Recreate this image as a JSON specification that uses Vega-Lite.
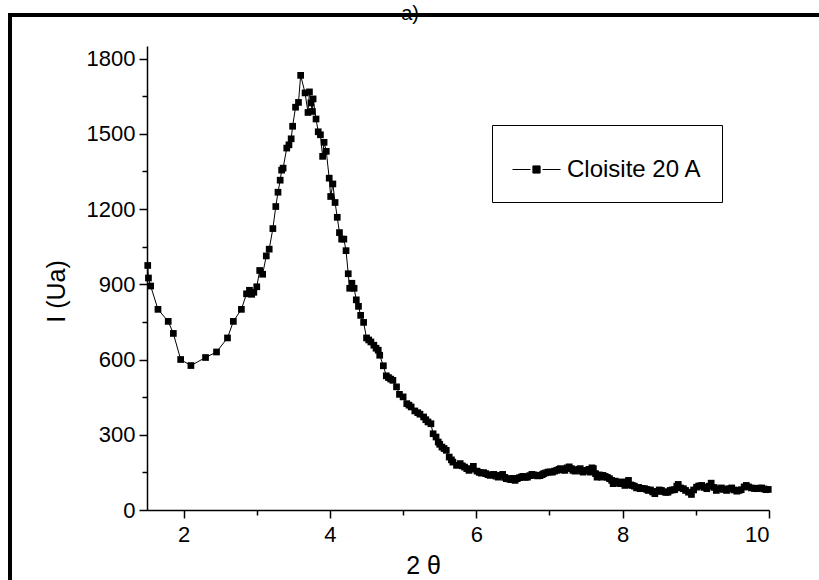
{
  "$schema": "https://vega.github.io/schema/vega-lite/v6.json",
  "autosize": "none",
  "width": 622,
  "height": 464,
  "padding": {"left": 147, "top": 46, "right": 50, "bottom": 70},
  "background": "white",
  "title": {"text": "a)", "fontSize": 20, "font": "Liberation Sans", "fontWeight": "normal", "color": "black", "anchor": "middle", "frame": "bounds", "offset": 0, "dx": -16, "dy": 11},
  "datasets": {
    "xrd": [
      {"x": 1.51, "y": 975}, {"x": 1.52, "y": 925}, {"x": 1.55, "y": 893}, {"x": 1.65, "y": 800}, {"x": 1.79, "y": 752}, {"x": 1.86, "y": 704}, {"x": 1.96, "y": 600}, {"x": 2.10, "y": 576}, {"x": 2.30, "y": 608}, {"x": 2.45, "y": 630}, {"x": 2.60, "y": 686}, {"x": 2.68, "y": 752}, {"x": 2.79, "y": 800}, {"x": 2.86, "y": 862}, {"x": 2.90, "y": 876}, {"x": 2.93, "y": 860}, {"x": 2.96, "y": 868}, {"x": 3.00, "y": 890}, {"x": 3.04, "y": 955}, {"x": 3.08, "y": 940}, {"x": 3.13, "y": 1013}, {"x": 3.17, "y": 1040}, {"x": 3.22, "y": 1122}, {"x": 3.26, "y": 1210}, {"x": 3.29, "y": 1267}, {"x": 3.32, "y": 1315}, {"x": 3.34, "y": 1355}, {"x": 3.36, "y": 1363}, {"x": 3.41, "y": 1443}, {"x": 3.44, "y": 1456}, {"x": 3.47, "y": 1480}, {"x": 3.49, "y": 1530}, {"x": 3.53, "y": 1606}, {"x": 3.57, "y": 1625}, {"x": 3.60, "y": 1733}, {"x": 3.66, "y": 1663}, {"x": 3.70, "y": 1585}, {"x": 3.72, "y": 1667}, {"x": 3.74, "y": 1623}, {"x": 3.76, "y": 1589}, {"x": 3.77, "y": 1639}, {"x": 3.81, "y": 1559}, {"x": 3.84, "y": 1508}, {"x": 3.87, "y": 1496}, {"x": 3.90, "y": 1410}, {"x": 3.92, "y": 1466}, {"x": 3.95, "y": 1430}, {"x": 3.99, "y": 1323}, {"x": 4.01, "y": 1250}, {"x": 4.04, "y": 1300}, {"x": 4.07, "y": 1226}, {"x": 4.10, "y": 1167}, {"x": 4.13, "y": 1106}, {"x": 4.16, "y": 1080}, {"x": 4.19, "y": 1080}, {"x": 4.22, "y": 1034}, {"x": 4.25, "y": 942}, {"x": 4.27, "y": 884}, {"x": 4.30, "y": 904}, {"x": 4.33, "y": 884}, {"x": 4.36, "y": 838}, {"x": 4.39, "y": 812}, {"x": 4.42, "y": 776}, {"x": 4.46, "y": 748}, {"x": 4.50, "y": 686}, {"x": 4.53, "y": 678}, {"x": 4.56, "y": 670}, {"x": 4.60, "y": 657}, {"x": 4.63, "y": 645}, {"x": 4.66, "y": 637}, {"x": 4.68, "y": 617}, {"x": 4.73, "y": 575}, {"x": 4.77, "y": 535}, {"x": 4.80, "y": 528}, {"x": 4.83, "y": 522}, {"x": 4.86, "y": 517}, {"x": 4.91, "y": 491}, {"x": 4.95, "y": 461}, {"x": 5.00, "y": 451}, {"x": 5.05, "y": 424}, {"x": 5.08, "y": 418}, {"x": 5.11, "y": 411}, {"x": 5.16, "y": 395}, {"x": 5.20, "y": 388}, {"x": 5.23, "y": 382}, {"x": 5.28, "y": 371}, {"x": 5.31, "y": 360}, {"x": 5.34, "y": 351}, {"x": 5.38, "y": 344}, {"x": 5.41, "y": 304}, {"x": 5.45, "y": 291}, {"x": 5.48, "y": 271}, {"x": 5.50, "y": 262}, {"x": 5.53, "y": 251}, {"x": 5.56, "y": 245}, {"x": 5.59, "y": 238}, {"x": 5.63, "y": 211}, {"x": 5.66, "y": 200}, {"x": 5.68, "y": 191}, {"x": 5.73, "y": 178}, {"x": 5.78, "y": 185}, {"x": 5.81, "y": 176}, {"x": 5.84, "y": 171}, {"x": 5.87, "y": 165}, {"x": 5.90, "y": 158}, {"x": 5.93, "y": 163}, {"x": 5.96, "y": 174}, {"x": 6.01, "y": 155}, {"x": 6.04, "y": 150}, {"x": 6.07, "y": 147}, {"x": 6.10, "y": 149}, {"x": 6.13, "y": 145}, {"x": 6.16, "y": 141}, {"x": 6.19, "y": 138}, {"x": 6.24, "y": 142}, {"x": 6.27, "y": 135}, {"x": 6.30, "y": 131}, {"x": 6.33, "y": 138}, {"x": 6.36, "y": 142}, {"x": 6.39, "y": 130}, {"x": 6.41, "y": 125}, {"x": 6.44, "y": 124}, {"x": 6.47, "y": 121}, {"x": 6.50, "y": 126}, {"x": 6.53, "y": 118}, {"x": 6.56, "y": 125}, {"x": 6.59, "y": 129}, {"x": 6.62, "y": 132}, {"x": 6.64, "y": 134}, {"x": 6.67, "y": 130}, {"x": 6.70, "y": 131}, {"x": 6.73, "y": 137}, {"x": 6.76, "y": 142}, {"x": 6.79, "y": 140}, {"x": 6.81, "y": 138}, {"x": 6.84, "y": 136}, {"x": 6.87, "y": 137}, {"x": 6.90, "y": 141}, {"x": 6.92, "y": 145}, {"x": 6.95, "y": 148}, {"x": 6.98, "y": 151}, {"x": 7.01, "y": 152}, {"x": 7.04, "y": 151}, {"x": 7.07, "y": 155}, {"x": 7.10, "y": 158}, {"x": 7.13, "y": 162}, {"x": 7.15, "y": 165}, {"x": 7.18, "y": 160}, {"x": 7.21, "y": 158}, {"x": 7.24, "y": 168}, {"x": 7.27, "y": 172}, {"x": 7.30, "y": 165}, {"x": 7.32, "y": 158}, {"x": 7.35, "y": 155}, {"x": 7.37, "y": 160}, {"x": 7.40, "y": 162}, {"x": 7.42, "y": 165}, {"x": 7.44, "y": 155}, {"x": 7.46, "y": 151}, {"x": 7.49, "y": 156}, {"x": 7.51, "y": 158}, {"x": 7.54, "y": 162}, {"x": 7.56, "y": 151}, {"x": 7.58, "y": 168}, {"x": 7.60, "y": 165}, {"x": 7.63, "y": 145}, {"x": 7.65, "y": 131}, {"x": 7.68, "y": 140}, {"x": 7.71, "y": 131}, {"x": 7.73, "y": 138}, {"x": 7.76, "y": 134}, {"x": 7.79, "y": 130}, {"x": 7.82, "y": 125}, {"x": 7.85, "y": 118}, {"x": 7.87, "y": 105}, {"x": 7.90, "y": 115}, {"x": 7.92, "y": 111}, {"x": 7.95, "y": 108}, {"x": 7.97, "y": 105}, {"x": 8.00, "y": 112}, {"x": 8.03, "y": 98}, {"x": 8.06, "y": 110}, {"x": 8.08, "y": 118}, {"x": 8.11, "y": 100}, {"x": 8.13, "y": 98}, {"x": 8.16, "y": 95}, {"x": 8.19, "y": 88}, {"x": 8.22, "y": 90}, {"x": 8.24, "y": 85}, {"x": 8.27, "y": 86}, {"x": 8.30, "y": 85}, {"x": 8.33, "y": 82}, {"x": 8.35, "y": 78}, {"x": 8.38, "y": 80}, {"x": 8.41, "y": 72}, {"x": 8.44, "y": 65}, {"x": 8.47, "y": 74}, {"x": 8.50, "y": 80}, {"x": 8.53, "y": 78}, {"x": 8.56, "y": 73}, {"x": 8.59, "y": 70}, {"x": 8.62, "y": 71}, {"x": 8.65, "y": 78}, {"x": 8.68, "y": 80}, {"x": 8.71, "y": 81}, {"x": 8.74, "y": 95}, {"x": 8.76, "y": 102}, {"x": 8.79, "y": 88}, {"x": 8.83, "y": 85}, {"x": 8.86, "y": 78}, {"x": 8.90, "y": 71}, {"x": 8.94, "y": 62}, {"x": 8.97, "y": 80}, {"x": 9.01, "y": 91}, {"x": 9.04, "y": 96}, {"x": 9.08, "y": 98}, {"x": 9.11, "y": 90}, {"x": 9.15, "y": 85}, {"x": 9.18, "y": 95}, {"x": 9.21, "y": 107}, {"x": 9.25, "y": 90}, {"x": 9.28, "y": 78}, {"x": 9.31, "y": 84}, {"x": 9.35, "y": 88}, {"x": 9.38, "y": 82}, {"x": 9.42, "y": 78}, {"x": 9.45, "y": 85}, {"x": 9.49, "y": 88}, {"x": 9.52, "y": 80}, {"x": 9.56, "y": 75}, {"x": 9.59, "y": 78}, {"x": 9.62, "y": 81}, {"x": 9.66, "y": 92}, {"x": 9.69, "y": 98}, {"x": 9.72, "y": 92}, {"x": 9.76, "y": 88}, {"x": 9.80, "y": 86}, {"x": 9.83, "y": 85}, {"x": 9.86, "y": 87}, {"x": 9.90, "y": 88}, {"x": 9.93, "y": 84}, {"x": 9.96, "y": 81}, {"x": 9.99, "y": 82}
    ]
  },
  "data": {"name": "xrd"},
  "resolve": {"scale": {"x": "independent", "y": "independent"}},
  "layer": [
    {
      "mark": {"type": "rect", "fill": null, "stroke": "black", "strokeWidth": 3.5, "clip": false},
      "encoding": {
        "x": {"datum": -0.372, "type": "quantitative", "scale": {"domain": [1.5, 10], "nice": false, "zero": false}, "axis": null},
        "x2": {"datum": 11.0},
        "y": {"datum": 1974, "type": "quantitative", "scale": {"domain": [0, 1850], "nice": false, "zero": false}, "axis": null},
        "y2": {"datum": -319}
      }
    },
    {
      "mark": {"type": "tick", "opacity": 0},
      "encoding": {
        "x": {"field": "x", "type": "quantitative", "scale": {"domain": [1.5, 10], "nice": false, "zero": false},
          "axis": {"orient": "bottom", "values": [3, 5, 7, 9], "tickSize": 5, "labels": false, "domain": false, "title": null}},
        "y": {"field": "y", "type": "quantitative", "scale": {"domain": [0, 1850], "nice": false, "zero": false},
          "axis": {"orient": "left", "values": [150, 450, 750, 1050, 1350, 1650], "tickSize": 5, "labels": false, "domain": false, "title": null}}
      }
    },
    {
      "mark": {"type": "line", "color": "black", "strokeWidth": 1},
      "encoding": {
        "x": {"field": "x", "type": "quantitative", "scale": {"domain": [1.5, 10], "nice": false, "zero": false},
          "axis": {"orient": "bottom", "values": [2, 4, 6, 8, 10], "tickSize": 8, "title": "2 θ", "titleFontSize": 25, "titleX": 276, "titlePadding": 8, "labelFontSize": 22, "labelPadding": 6, "format": "d"}},
        "y": {"field": "y", "type": "quantitative", "scale": {"domain": [0, 1850], "nice": false, "zero": false},
          "axis": {"orient": "left", "values": [0, 300, 600, 900, 1200, 1500, 1800], "tickSize": 8, "title": "I (Ua)", "titleFontSize": 25, "titleX": -78, "titleY": 245, "labelFontSize": 22, "labelPadding": 4, "format": "d"}}
      }
    },
    {
      "mark": {"type": "point", "shape": "square", "filled": true, "size": 45, "opacity": 1},
      "encoding": {
        "x": {"field": "x", "type": "quantitative", "scale": {"domain": [1.5, 10], "nice": false, "zero": false}, "axis": null},
        "y": {"field": "y", "type": "quantitative", "scale": {"domain": [0, 1850], "nice": false, "zero": false}, "axis": null},
        "color": {"datum": "Cloisite 20 A", "scale": {"range": ["black"]},
          "legend": {"orient": "none", "legendX": 345, "legendY": 79, "title": null,
            "symbolType": "M-1,0H-0.25M-0.15,-0.15H0.15V0.15H-0.15ZM0.25,0H1", "symbolSize": 2304,
            "symbolStrokeColor": "black", "symbolStrokeWidth": 1, "symbolFillColor": "black",
            "labelFontSize": 24, "labelOffset": 6, "strokeColor": "black", "fillColor": "white", "padding": 20}}
      }
    }
  ],
  "config": {
    "view": {"stroke": null},
    "font": "Liberation Sans",
    "axis": {"grid": false, "domainColor": "black", "domainWidth": 1.5, "tickColor": "black", "tickWidth": 1.5, "labelColor": "black", "titleColor": "black", "labelFont": "Liberation Sans", "titleFont": "Liberation Sans", "titleFontWeight": "normal"},
    "legend": {"labelFont": "Liberation Sans", "labelColor": "black"}
  }
}
